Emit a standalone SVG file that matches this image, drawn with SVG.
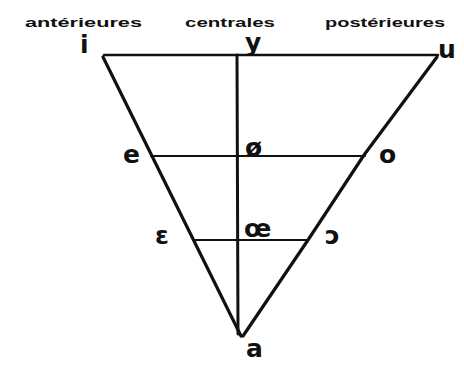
<svg xmlns="http://www.w3.org/2000/svg" width="464" height="365" viewBox="0 0 464 365">
<style>
.hdr{font-family:"Liberation Sans","DejaVu Sans",sans-serif;font-weight:bold;font-size:12.5px;fill:#111}
.v{font-family:"DejaVu Sans","Liberation Sans",sans-serif;font-weight:bold;font-size:25px;fill:#111}
.ln{stroke:#111;fill:none;stroke-linecap:round;stroke-linejoin:round}
</style>
<rect width="464" height="365" fill="#fff"/>
<g id="headers">
<text class="hdr" x="25" y="27" textLength="117" lengthAdjust="spacingAndGlyphs">antérieures</text>
<text class="hdr" x="185" y="27" textLength="90" lengthAdjust="spacingAndGlyphs">centrales</text>
<text class="hdr" x="325" y="27" textLength="120" lengthAdjust="spacingAndGlyphs">postérieures</text>
</g>
<g id="connectors">
<path class="ln" stroke-width="2.5" d="M104,55 L438,55"/>
<path class="ln" stroke-width="3.2" d="M103,57 L241,336"/>
<path class="ln" stroke-width="3.2" d="M437,57 L364,155 L308,240 L243,336"/>
<path class="ln" stroke-width="3" d="M237,55 L238,334"/>
<path class="ln" stroke-width="2.2" d="M151,156 L365,156"/>
<path class="ln" stroke-width="2.2" d="M193,240 L308,240"/>
</g>
<g id="node-i"><text class="v" x="80" y="53">i</text></g>
<g id="node-y"><text class="v" x="245" y="51">y</text></g>
<g id="node-u"><text class="v" x="438" y="58">u</text></g>
<g id="node-e"><text class="v" x="123" y="163">e</text></g>
<g id="node-oe-slash"><text class="v" x="245" y="156">ø</text></g>
<g id="node-o"><text class="v" x="379" y="163">o</text></g>
<g id="node-epsilon"><text class="v" x="155" y="244">ɛ</text></g>
<g id="node-oe"><text class="v" x="244" y="237">œ</text></g>
<g id="node-open-o"><text class="v" x="325" y="244">ɔ</text></g>
<g id="node-a"><text class="v" x="246" y="357">a</text></g>
</svg>
